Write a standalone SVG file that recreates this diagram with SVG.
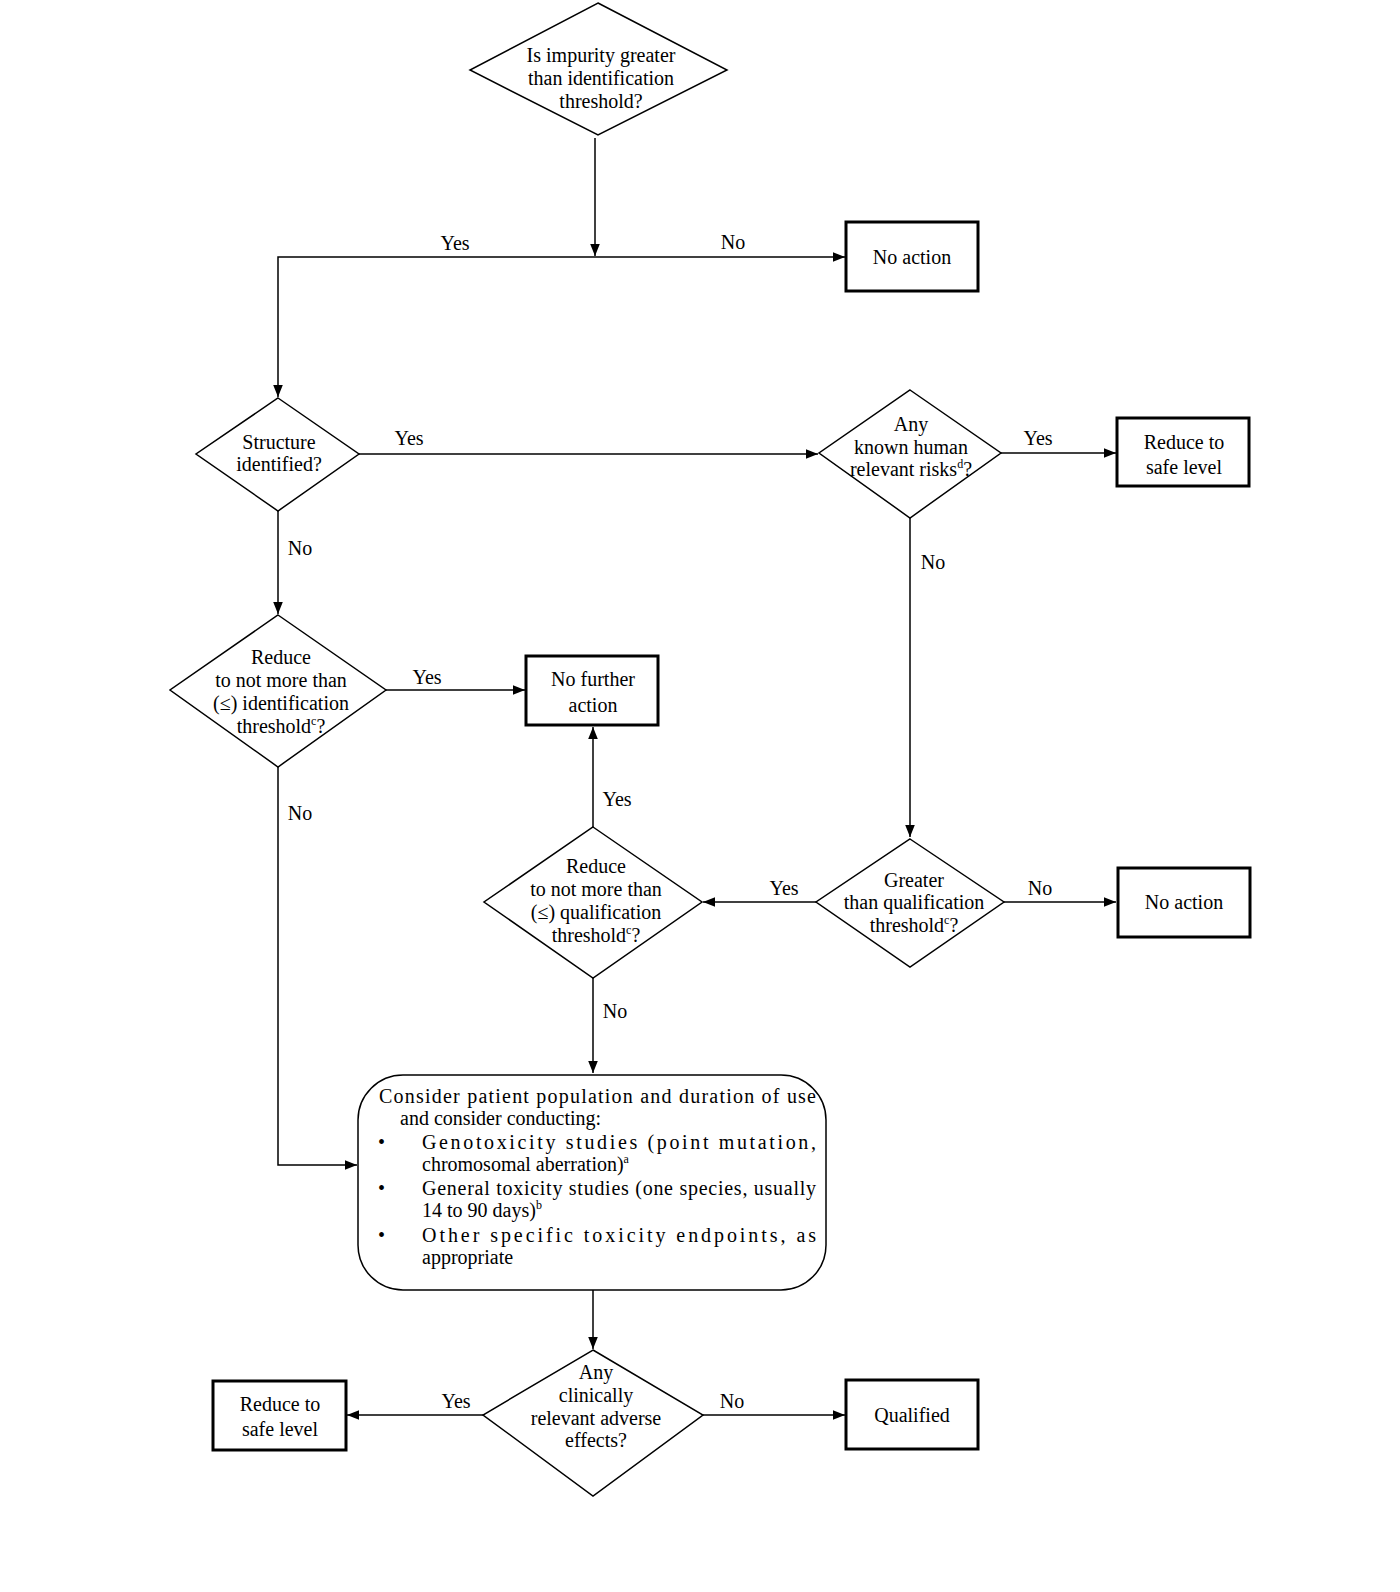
<svg xmlns="http://www.w3.org/2000/svg" width="1400" height="1592" viewBox="0 0 1400 1592">
<style>
text{font-family:"Liberation Serif","DejaVu Serif",serif;font-size:20px;fill:#000}
.c{text-anchor:middle}
.d{fill:#fff;stroke:#000;stroke-width:1.5}
.b{fill:#fff;stroke:#000;stroke-width:3}
.l{fill:none;stroke:#000;stroke-width:1.5}
.s{font-size:12px}
</style>
<defs><marker id="a" viewBox="0 0 10 10" refX="10" refY="5" markerWidth="12" markerHeight="12" markerUnits="userSpaceOnUse" orient="auto"><path d="M0,1 L10,5 L0,9 z" fill="#000"/></marker></defs>
<rect width="1400" height="1592" fill="#fff"/>
<g id="connectors">
<path class="l" d="M595,138 V256" marker-end="url(#a)"/>
<path class="l" d="M595,257 H845" marker-end="url(#a)"/>
<path class="l" d="M595,257 H278 V397" marker-end="url(#a)"/>
<path class="l" d="M359,454 H818" marker-end="url(#a)"/>
<path class="l" d="M1001,453 H1116" marker-end="url(#a)"/>
<path class="l" d="M278,511 V614" marker-end="url(#a)"/>
<path class="l" d="M386,690 H525" marker-end="url(#a)"/>
<path class="l" d="M278,767 V1165 H357" marker-end="url(#a)"/>
<path class="l" d="M910,518 V837" marker-end="url(#a)"/>
<path class="l" d="M1004,902 H1116" marker-end="url(#a)"/>
<path class="l" d="M816,902 H703" marker-end="url(#a)"/>
<path class="l" d="M593,827 V727" marker-end="url(#a)"/>
<path class="l" d="M593,978 V1073" marker-end="url(#a)"/>
<path class="l" d="M593,1290 V1349" marker-end="url(#a)"/>
<path class="l" d="M483,1415 H347" marker-end="url(#a)"/>
<path class="l" d="M703,1415 H845" marker-end="url(#a)"/>
<text x="455" y="250" class="c">Yes</text><text x="733" y="249" class="c">No</text>
<text x="409" y="445" class="c">Yes</text><text x="1038" y="445" class="c">Yes</text>
<text x="300" y="555" class="c">No</text><text x="427" y="684" class="c">Yes</text>
<text x="300" y="820" class="c">No</text><text x="933" y="569" class="c">No</text>
<text x="1040" y="895" class="c">No</text><text x="784" y="895" class="c">Yes</text>
<text x="617" y="806" class="c">Yes</text><text x="615" y="1018" class="c">No</text>
<text x="456" y="1408" class="c">Yes</text><text x="732" y="1408" class="c">No</text>
</g>
<g id="d1"><path class="d" d="M598,3 L727,70 L598,135 L470,70 z"/>
<text class="c" x="601" y="62">Is impurity greater</text><text class="c" x="601" y="85">than identification</text><text class="c" x="601" y="108">threshold?</text></g>
<g id="noaction1"><rect class="b" x="846" y="222" width="132" height="69"/><text class="c" x="912" y="264">No action</text></g>
<g id="d2"><path class="d" d="M278,398 L359,454 L278,511 L196,454 z"/>
<text class="c" x="279" y="449">Structure</text><text class="c" x="279" y="471">identified?</text></g>
<g id="d3"><path class="d" d="M910,390 L1001,453 L910,518 L819,453 z"/>
<text class="c" x="911" y="431">Any</text><text class="c" x="911" y="454">known human</text><text class="c" x="911" y="476">relevant risks<tspan class="s" dy="-8">d</tspan><tspan dy="8">?</tspan></text></g>
<g id="reduce1"><rect class="b" x="1117" y="418" width="132" height="68"/><text class="c" x="1184" y="449">Reduce to</text><text class="c" x="1184" y="474">safe level</text></g>
<g id="d4"><path class="d" d="M278,615 L386,690 L278,767 L170,690 z"/>
<text class="c" x="281" y="664">Reduce</text><text class="c" x="281" y="687">to not more than</text><text class="c" x="281" y="710">(≤) identification</text><text class="c" x="281" y="733">threshold<tspan class="s" dy="-8">c</tspan><tspan dy="8">?</tspan></text></g>
<g id="nofurther"><rect class="b" x="526" y="656" width="132" height="69"/><text class="c" x="593" y="686">No further</text><text class="c" x="593" y="712">action</text></g>
<g id="d5"><path class="d" d="M910,839 L1004,902 L910,967 L816,902 z"/>
<text class="c" x="914" y="887">Greater</text><text class="c" x="914" y="909">than qualification</text><text class="c" x="914" y="932">threshold<tspan class="s" dy="-8">c</tspan><tspan dy="8">?</tspan></text></g>
<g id="noaction2"><rect class="b" x="1118" y="868" width="132" height="69"/><text class="c" x="1184" y="909">No action</text></g>
<g id="d6"><path class="d" d="M593,827 L702,902 L593,978 L484,902 z"/>
<text class="c" x="596" y="873">Reduce</text><text class="c" x="596" y="896">to not more than</text><text class="c" x="596" y="919">(≤) qualification</text><text class="c" x="596" y="942">threshold<tspan class="s" dy="-8">c</tspan><tspan dy="8">?</tspan></text></g>
<g id="consider"><rect x="358" y="1075" width="468" height="215" rx="45" fill="#fff" stroke="#000" stroke-width="1.5"/>
<text x="379" y="1103" textLength="437" lengthAdjust="spacing">Consider patient population and duration of use</text>
<text x="400" y="1125">and consider conducting:</text>
<text x="378" y="1149">•</text><text x="378" y="1195">•</text><text x="378" y="1242">•</text>
<text x="422" y="1149" textLength="394" lengthAdjust="spacing">Genotoxicity studies (point mutation,</text>
<text x="422" y="1171">chromosomal aberration)<tspan class="s" dy="-8">a</tspan></text>
<text x="422" y="1195" textLength="394" lengthAdjust="spacing">General toxicity studies (one species, usually</text>
<text x="422" y="1217">14 to 90 days)<tspan class="s" dy="-8">b</tspan></text>
<text x="422" y="1242" textLength="394" lengthAdjust="spacing">Other specific toxicity endpoints, as</text>
<text x="422" y="1264">appropriate</text></g>
<g id="d7"><path class="d" d="M593,1350 L703,1415 L593,1496 L483,1415 z"/>
<text class="c" x="596" y="1379">Any</text><text class="c" x="596" y="1402">clinically</text><text class="c" x="596" y="1425">relevant adverse</text><text class="c" x="596" y="1447">effects?</text></g>
<g id="reduce2"><rect class="b" x="213" y="1381" width="133" height="69"/><text class="c" x="280" y="1411">Reduce to</text><text class="c" x="280" y="1436">safe level</text></g>
<g id="qualified"><rect class="b" x="846" y="1380" width="132" height="69"/><text class="c" x="912" y="1422">Qualified</text></g>
</svg>
